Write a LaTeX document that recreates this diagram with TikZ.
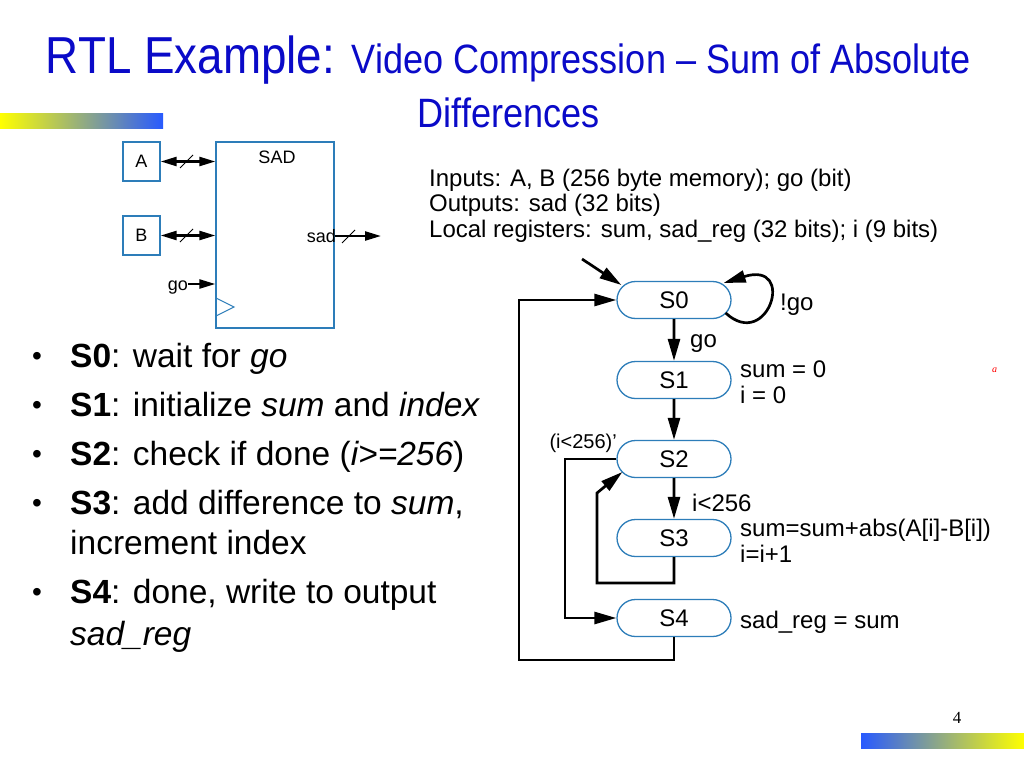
\documentclass[tikz,border=0pt]{standalone}
\usepackage{fontspec}
\setmainfont{Liberation Sans}
\newfontfamily\seriffont{Liberation Serif}
\newfontfamily\titlefont[FakeStretch=0.88]{Liberation Sans}
\usetikzlibrary{shapes.misc,arrows.meta}
\definecolor{titleblue}{RGB}{10,10,200}
\definecolor{boxblue}{RGB}{45,125,185}
\definecolor{baryellow}{RGB}{255,255,0}
\definecolor{barblue}{RGB}{40,90,255}
\begin{document}
\begin{tikzpicture}[x=1pt,y=-1pt,
  txt/.style={inner sep=0pt, anchor=base west},
  fa/.style={font=\fontsize{24}{24}\selectfont},
  fb/.style={font=\fontsize{33.5}{33.5}\selectfont},
  fc/.style={font=\fontsize{18}{18}\selectfont},
  state/.style={rounded rectangle, draw=boxblue, line width=1.3pt, minimum width=114pt, minimum height=37pt, inner sep=0pt, font=\fontsize{24}{24}\selectfont},
  regbox/.style={draw=boxblue, line width=1.3pt, inner sep=0pt, font=\fontsize{18}{18}\selectfont},
  arr/.style={line width=2.7pt, -{Triangle[length=22pt,width=12pt]}},
  sarr/.style={line width=2.4pt, -{Triangle[length=16pt,width=9pt]}},
  dsarr/.style={line width=2.4pt, {Triangle[length=16pt,width=9pt]}-{Triangle[length=16pt,width=9pt]}},
  slash/.style={line width=0.9pt}
]
\useasboundingbox (0,0) rectangle (1024,768);
\fill[white] (0,0) rectangle (1024,768);

% decorative bars
\shade[left color=baryellow, right color=barblue] (0,113) rectangle (163,128);
\shade[left color=barblue, right color=baryellow] (861,733) rectangle (1024,748);

% title
\node[inner sep=0pt, anchor=base, text=titleblue] (title1) at (508.5,73)
  {\titlefont\fontsize{52}{52}\selectfont RTL Example: \fontsize{41}{41}\selectfont Video Compression \textendash{} Sum of Absolute};
\node[inner sep=0pt, anchor=base, text=titleblue, font=\titlefont\fontsize{41}{41}\selectfont] (title2) at (508.5,127) {Differences};

% SAD block
\node[regbox, minimum width=118pt, minimum height=186pt] (sad) at (275,235) {};
\node[txt, anchor=base, fc] (sadname) at (277,163) {SAD};
\node[regbox, minimum width=37pt, minimum height=39pt] (A) at (141.5,161.5) {A};
\node[regbox, minimum width=37pt, minimum height=39pt] (B) at (141.5,235.5) {B};
\draw[dsarr] (A.east) -- (sad.west |- A.east);
\draw[dsarr] (B.east) -- (sad.west |- B.east);
\draw[slash] (180,168) -- (193,155);
\draw[slash] (180,242) -- (193,229);
\node[txt, anchor=base east, fc] (golbl) at (188,290) {go};
\coordinate (goy) at (0,284);
\draw[sarr] (golbl.east |- goy) -- (sad.west |- goy);
\draw[boxblue, line width=1pt] (216,298) -- (234,307) -- (216,316);
\node[txt, anchor=base east, fc] (sadlbl) at (336,242) {sad};
\coordinate (sadout) at (381,236);
\draw[sarr] (sad.east |- sadout) -- (sadout);
\draw[slash] (342,243) -- (355,230);

% info text
\node[txt, fa] (inp) at (429,186) {Inputs: A, B (256 byte memory); go (bit)};
\node[txt, fa] (outp) at (429,211) {Outputs: sad (32 bits)};
\node[txt, fa] (loc) at (429,237) {Local registers: sum, sad\_reg (32 bits); i (9 bits)};

% bullets
\foreach \y in {367,416,465,514,603} { \node[txt, font=\fontsize{28}{28}\selectfont] at (32,\y-2) {\textbullet}; }
\node[txt, fb] (b0) at (70,367) {\textbf{S0}: wait for \textit{go}};
\node[txt, fb] (b1) at (70,416) {\textbf{S1}: initialize \textit{sum} and \textit{index}};
\node[txt, fb] (b2) at (70,465) {\textbf{S2}: check if done (\textit{i>=256})};
\node[txt, fb] (b3) at (70,514) {\textbf{S3}: add difference to \textit{sum},};
\node[txt, fb] (b3b) at (70,554) {increment index};
\node[txt, fb] (b4) at (70,603) {\textbf{S4}: done, write to output};
\node[txt, fb] (b4b) at (70,645) {\textit{sad\_reg}};

% FSM states
\node[state] (S0) at (674,300) {S0};
\node[state] (S1) at (674,380) {S1};
\node[state] (S2) at (674,459) {S2};
\node[state] (S3) at (674,538) {S3};
\node[state] (S4) at (674,618) {S4};

% transitions
\coordinate (init) at (582,259);
\draw[arr] (init) -- ([xshift=5pt,yshift=15pt]S0.west);
\draw[arr] ([xshift=-6pt,yshift=-13pt]S0.east) .. controls (768,352) and (797,260) .. ([xshift=-8pt,yshift=17pt]S0.east);
\node[txt, fa] (notgo) at (780,310) {!go};
\draw[arr] (S0) -- (S1);
\node[txt, fa] (golab) at (690,347) {go};
\draw[arr] (S1) -- (S2);
\draw[arr] (S2) -- (S3);
\node[txt, fa] (ilt) at (692,511) {i<256};
\draw[arr] (S2.west) -| (565,590) |- (S4.west);
\node[txt, anchor=base east, font=\fontsize{20}{20}\selectfont] (nilt) at (617,448) {(i<256)’};
\draw[arr] (S3.south) |- (597,583) -- (597,493) -- ([xshift=6pt,yshift=-13pt]S2.west);
\draw[arr] (S4.south) |- (519,660) |- (S0.west);

% actions
\node[txt, fa] (a1) at (740,377) {sum = 0};
\node[txt, fa] (a1b) at (740,403) {i = 0};
\node[txt, fa] (a3) at (740,536) {sum=sum+abs(A[i]-B[i])};
\node[txt, fa] (a3b) at (740,562) {i=i+1};
\node[txt, fa] (a4) at (740,628) {sad\_reg = sum};

% stray mark and page number
\node[txt, text=red, font=\seriffont\itshape\fontsize{10}{10}\selectfont] (reda) at (992,372) {a};
\node[txt, anchor=base, font=\seriffont\fontsize{17}{17}\selectfont] (pnum) at (957,723) {4};
\end{tikzpicture}
\end{document}
